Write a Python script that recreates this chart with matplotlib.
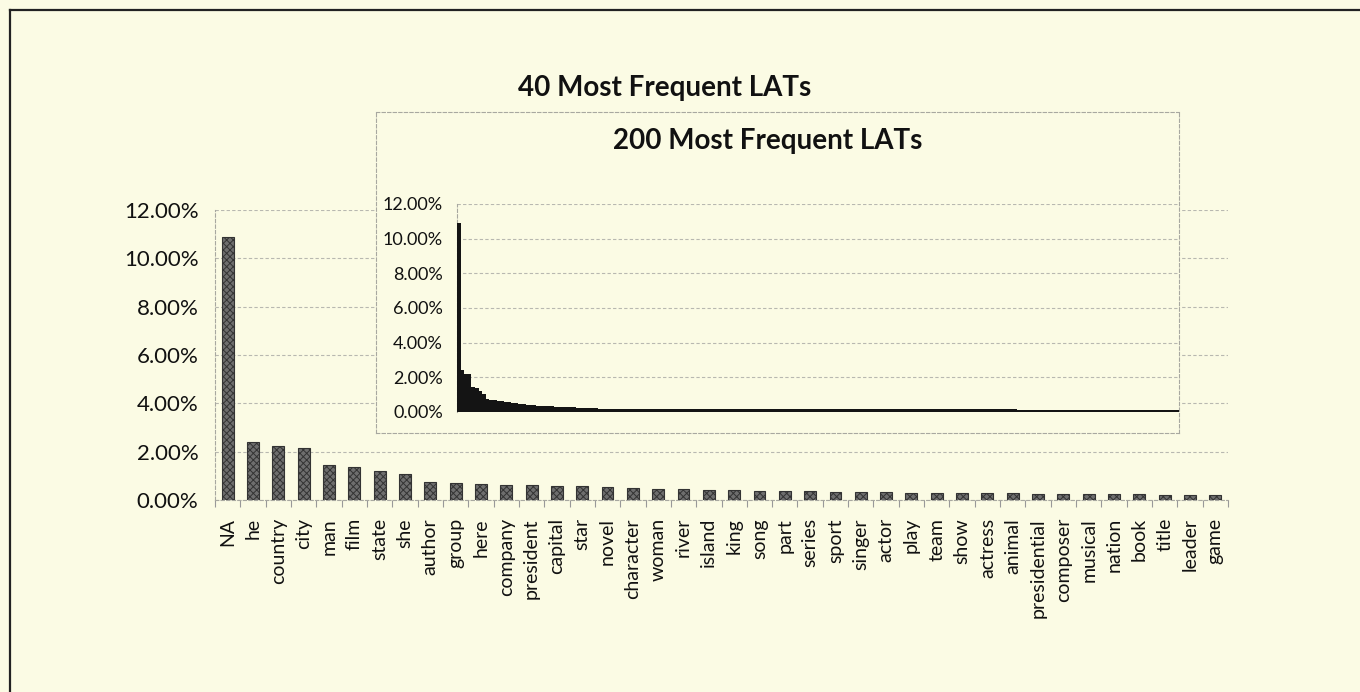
import matplotlib
matplotlib.use("Agg")
import matplotlib.pyplot as plt
from matplotlib.lines import Line2D
from matplotlib.ticker import FuncFormatter, MultipleLocator

plt.rcParams['font.family'] = ['Lato', 'DejaVu Sans']
plt.rcParams['hatch.linewidth'] = 0.7

# Top 40 LATs (share of questions, %)
lats = ["NA", "he", "country", "city", "man", "film", "state", "she", "author", "group",
        "here", "company", "president", "capital", "star", "novel", "character", "woman",
        "river", "island", "king", "song", "part", "series", "sport", "singer", "actor",
        "play", "team", "show", "actress", "animal", "presidential", "composer", "musical",
        "nation", "book", "title", "leader", "game"]
top40 = [10.9, 2.4, 2.22, 2.17, 1.45, 1.36, 1.22, 1.06, 0.76, 0.72,
         0.67, 0.64, 0.61, 0.59, 0.56, 0.53, 0.50, 0.45, 0.44, 0.43,
         0.40, 0.39, 0.37, 0.36, 0.35, 0.33, 0.32, 0.31, 0.30, 0.30,
         0.28, 0.27, 0.26, 0.25, 0.25, 0.24, 0.23, 0.22, 0.21, 0.20]

# ranks 41-200 (rough)
tail = [0.20, 0.20, 0.20, 0.20, 0.19, 0.19, 0.19, 0.19, 0.19, 0.19,
        0.19, 0.19, 0.18, 0.18, 0.18, 0.18, 0.18, 0.18, 0.18, 0.18,
        0.18, 0.18, 0.18, 0.18, 0.17, 0.17, 0.17, 0.17, 0.17, 0.17,
        0.17, 0.17, 0.17, 0.17, 0.17, 0.17, 0.17, 0.17, 0.17, 0.17,
        0.17, 0.17, 0.16, 0.16, 0.16, 0.16, 0.16, 0.16, 0.16, 0.16,
        0.16, 0.16, 0.16, 0.16, 0.16, 0.16, 0.16, 0.16, 0.16, 0.16,
        0.16, 0.16, 0.16, 0.16, 0.16, 0.16, 0.16, 0.16, 0.16, 0.16,
        0.16, 0.16, 0.16, 0.15, 0.15, 0.15, 0.15, 0.15, 0.15, 0.15,
        0.15, 0.15, 0.15, 0.15, 0.15, 0.15, 0.15, 0.15, 0.15, 0.15,
        0.15, 0.15, 0.15, 0.15, 0.15, 0.15, 0.15, 0.15, 0.15, 0.15,
        0.15, 0.15, 0.15, 0.15, 0.15, 0.15, 0.15, 0.15, 0.15, 0.15,
        0.15, 0.15, 0.15, 0.15, 0.15, 0.14, 0.14, 0.14, 0.14, 0.14,
        0.14, 0.14, 0.14, 0.14, 0.14, 0.14, 0.14, 0.14, 0.14, 0.14,
        0.14, 0.14, 0.14, 0.14, 0.14, 0.14, 0.14, 0.14, 0.14, 0.14,
        0.14, 0.14, 0.14, 0.14, 0.14, 0.14, 0.14, 0.14, 0.14, 0.14,
        0.14, 0.14, 0.14, 0.14, 0.14, 0.14, 0.14, 0.14, 0.14, 0.14]
top200 = top40 + tail

bg = '#fbfbe4'
grid_c = '#b8b8b0'
pct = FuncFormatter(lambda v, p: f"{v:.2f}%")

fig = plt.figure(figsize=(13.6, 6.92), dpi=100, facecolor=bg)
W, H = 1360, 692

def frac(x0, y0, x1, y1):
    # pixel box (top-left origin) -> figure fraction rect
    return [x0 / W, (H - y1) / H, (x1 - x0) / W, (y1 - y0) / H]

# outer frame (left + top)
fig.add_artist(Line2D([10 / W, 10 / W], [0, 1 - 10 / H], color='#222', lw=1.6))
fig.add_artist(Line2D([10 / W, 1], [1 - 10 / H, 1 - 10 / H], color='#222', lw=1.6))

# ---- main chart: 40 most frequent
ax = fig.add_axes(frac(215, 210, 1228, 500))
ax.set_facecolor(bg)
x = range(len(top40))
ax.bar(x, top40, width=0.47, color='#6e6e6e', edgecolor='#333333', hatch='xxxxx',
       linewidth=0.8, zorder=3)
ax.set_xlim(-0.5, len(top40) - 0.5)
ax.set_ylim(0, 12)
ax.yaxis.set_major_locator(MultipleLocator(2))
ax.yaxis.set_major_formatter(pct)
ax.grid(axis='y', color=grid_c, linestyle=(0, (3, 2)), linewidth=0.8, zorder=0)
ax.set_xticks(list(x))
ax.set_xticklabels(lats, rotation=90, fontsize=14, color='#111')
ax.set_xticks([i - 0.5 for i in range(len(top40) + 1)], minor=True)
ax.tick_params(axis='x', which='major', length=0, pad=13)
ax.tick_params(axis='x', which='minor', length=5, color='#999', width=0.8)
ax.tick_params(axis='y', length=0, pad=12, labelsize=16, labelcolor='#111')
for s in ['top', 'right']:
    ax.spines[s].set_visible(False)
for s in ['left', 'bottom']:
    ax.spines[s].set_color('#a8a8a0')
    ax.spines[s].set_linestyle((0, (3, 2)))
    ax.spines[s].set_linewidth(0.8)

fig.text(665 / W, 1 - 88 / H, "40 Most Frequent LATs", ha='center', va='center',
         fontsize=20, fontweight='bold', color='#111')

# ---- inset box: 200 most frequent
box = fig.add_axes(frac(376, 112, 1179, 433))
box.set_facecolor(bg)
box.set_xticks([])
box.set_yticks([])
for s in box.spines.values():
    s.set_color('#a8a8a0')
    s.set_linestyle((0, (3, 2)))
    s.set_linewidth(0.8)

ins = fig.add_axes(frac(457, 204, 1179, 412))
ins.patch.set_alpha(0)
ins.bar(range(len(top200)), top200, width=1.0, color='#141414', linewidth=0, zorder=3)
ins.set_xlim(-0.5, len(top200) - 0.5)
ins.set_ylim(0, 12)
ins.yaxis.set_major_locator(MultipleLocator(2))
ins.yaxis.set_major_formatter(pct)
ins.grid(axis='y', color=grid_c, linestyle=(0, (3, 2)), linewidth=0.8, zorder=0)
ins.set_xticks([])
ins.tick_params(axis='y', length=0, pad=10, labelsize=13, labelcolor='#111')
for s in ['top', 'right', 'bottom']:
    ins.spines[s].set_visible(False)
ins.spines['left'].set_color('#a8a8a0')
ins.spines['left'].set_linestyle((0, (3, 2)))
ins.spines['left'].set_linewidth(0.8)

fig.text(768 / W, 1 - 141 / H, "200 Most Frequent LATs", ha='center', va='center',
         fontsize=20, fontweight='bold', color='#111')

fig.savefig('out.png', dpi=100, facecolor=bg)
